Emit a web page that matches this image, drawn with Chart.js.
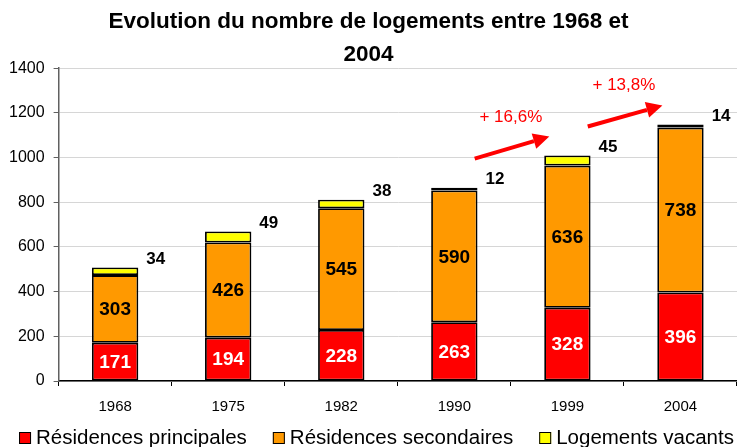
<!DOCTYPE html>
<html>
<head>
<meta charset="utf-8">
<script src="https://cdn.jsdelivr.net/npm/chart.js@4"></script>
<style>
  html, body { margin: 0; padding: 0; background: #fff; }
  #wrap { width: 737px; height: 447px; }
</style>
</head>
<body>
<div id="wrap"><canvas id="logements-chart"></canvas></div>
<script>
const years = ["1968", "1975", "1982", "1990", "1999", "2004"];
const principales = [171, 194, 228, 263, 328, 396];
const secondaires = [303, 426, 545, 590, 636, 738];
const vacants = [34, 49, 38, 12, 45, 14];
const growth = ["+ 16,6%", "+ 13,8%"];
const yTicks = [0, 200, 400, 600, 800, 1000, 1200, 1400];

const FONT = "'Liberation Sans', Arial, sans-serif";

// values written inside / beside the bars
const barLabels = {
    id: "barLabels",
    afterDatasetsDraw(chart) {
        const ctx = chart.ctx;
        ctx.save();
        chart.data.datasets.forEach((ds, i) => {
            const meta = chart.getDatasetMeta(i);
            meta.data.forEach((bar, j) => {
                const v = ds.data[j];
                if (i < 2) {
                    ctx.font = "bold 19px " + FONT;
                    ctx.fillStyle = i === 0 ? "#ffffff" : "#000000";
                    ctx.textAlign = "center";
                    ctx.textBaseline = "middle";
                    ctx.fillText(v, bar.x, (bar.y + bar.base) / 2 + 1);
                } else {
                    ctx.font = "bold 17px " + FONT;
                    ctx.fillStyle = "#000000";
                    ctx.textAlign = "left";
                    ctx.textBaseline = "middle";
                    ctx.fillText(v, bar.x + bar.width / 2 + 8, bar.y - 8);
                }
            });
        });
        ctx.restore();
    }
};

// red growth arrows between the last three years
const growthArrows = {
    id: "growthArrows",
    afterDraw(chart) {
        const ctx = chart.ctx;
        const x = chart.scales.x, y = chart.scales.y;
        const totals = years.map((_, j) => principales[j] + secondaires[j] + vacants[j]);
        ctx.save();
        growth.forEach((txt, k) => {
            const j = years.length - 3 + k;
            const x0 = x.getPixelForValue(j + 0.18), y0 = y.getPixelForValue(totals[j] + 130);
            const x1 = x.getPixelForValue(j + 0.84), y1 = y.getPixelForValue(totals[j + 1] + 85);
            const ang = Math.atan2(y1 - y0, x1 - x0);
            const hl = 16, hw = 8;
            const bx = x1 - hl * Math.cos(ang), by = y1 - hl * Math.sin(ang);
            ctx.strokeStyle = "#ff0000";
            ctx.fillStyle = "#ff0000";
            ctx.lineWidth = 4;
            ctx.beginPath();
            ctx.moveTo(x0, y0);
            ctx.lineTo(bx, by);
            ctx.stroke();
            ctx.beginPath();
            ctx.moveTo(x1, y1);
            ctx.lineTo(bx + hw * Math.sin(ang), by - hw * Math.cos(ang));
            ctx.lineTo(bx - hw * Math.sin(ang), by + hw * Math.cos(ang));
            ctx.closePath();
            ctx.fill();
            ctx.font = "17px " + FONT;
            ctx.textAlign = "center";
            ctx.textBaseline = "middle";
            ctx.fillText(txt, x.getPixelForValue(j + 0.5), y0 - 41);
        });
        ctx.restore();
    }
};

// legend row under the axis (square boxes with black outline)
const bottomLegend = {
    id: "bottomLegend",
    afterDraw(chart) {
        const ctx = chart.ctx;
        const box = 12, gapText = 5, gapItem = 26;
        ctx.save();
        ctx.font = "20.5px " + FONT;
        const items = chart.data.datasets.map(ds => ({
            text: ds.label, color: ds.backgroundColor, w: ctx.measureText(ds.label).width
        }));
        const total = items.reduce((s, it) => s + box + gapText + it.w, 0) + gapItem * (items.length - 1);
        let cx = chart.width / 2 - total / 2 + 8;
        const cy = chart.height - 9;
        items.forEach(it => {
            ctx.fillStyle = it.color;
            ctx.fillRect(cx, cy - box / 2, box, box);
            ctx.strokeStyle = "#000000";
            ctx.lineWidth = 1;
            ctx.strokeRect(cx + 0.5, cy - box / 2 + 0.5, box - 1, box - 1);
            ctx.fillStyle = "#000000";
            ctx.textAlign = "left";
            ctx.textBaseline = "middle";
            ctx.fillText(it.text, cx + box + gapText, cy);
            cx += box + gapText + it.w + gapItem;
        });
        ctx.restore();
    }
};

const logementsChart = () => {
    const option = {
        type: "bar",
        data: {
            labels: years,
            datasets: [{
                label: "Résidences principales",
                data: principales,
                backgroundColor: "#ff0000",
            }, {
                label: "Résidences secondaires",
                data: secondaires,
                backgroundColor: "#ff9900",
            }, {
                label: "Logements vacants",
                data: vacants,
                backgroundColor: "#ffff00",
            }].map(ds => Object.assign(ds, {
                borderColor: "#000000",
                borderWidth: 1.8,
                borderSkipped: false,
                barPercentage: 0.41,
                categoryPercentage: 1,
            }))
        },
        options: {
            responsive: true,
            maintainAspectRatio: false,
            animation: false,
            layout: { padding: { left: 0, right: 0, top: 0, bottom: 19 } },
            plugins: {
                title: {
                    display: true,
                    text: ["Evolution du nombre de logements entre 1968 et", "2004"],
                    color: "#000000",
                    font: { family: FONT, size: 22.5, weight: "bold", lineHeight: 1.47 },
                    padding: { top: 5, bottom: -3 }
                },
                legend: { display: false },
                tooltip: { enabled: false }
            },
            scales: {
                x: {
                    stacked: true,
                    grid: {
                        offset: true,
                        drawOnChartArea: false,
                        drawTicks: true,
                        tickLength: 5,
                        tickColor: "#000000"
                    },
                    border: { color: "#000000", width: 1.5 },
                    ticks: {
                        color: "#000000",
                        padding: 12,
                        font: { family: FONT, size: 15 }
                    }
                },
                y: {
                    stacked: true,
                    min: 0,
                    max: 1400,
                    afterBuildTicks: axis => { axis.ticks = yTicks.map(v => ({ value: v })); },
                    grid: {
                        color: "#d6d6d6",
                        tickLength: 5,
                        tickColor: "#606060"
                    },
                    border: { color: "#606060", width: 1.5 },
                    ticks: {
                        color: "#000000",
                        padding: 9,
                        callback: v => String(v),
                        font: { family: FONT, size: 16 }
                    }
                }
            }
        },
        plugins: [barLabels, growthArrows, bottomLegend]
    };
    const canvas = document.getElementById("logements-chart");
    new Chart(canvas, option);
};

logementsChart();
</script>
</body>
</html>
